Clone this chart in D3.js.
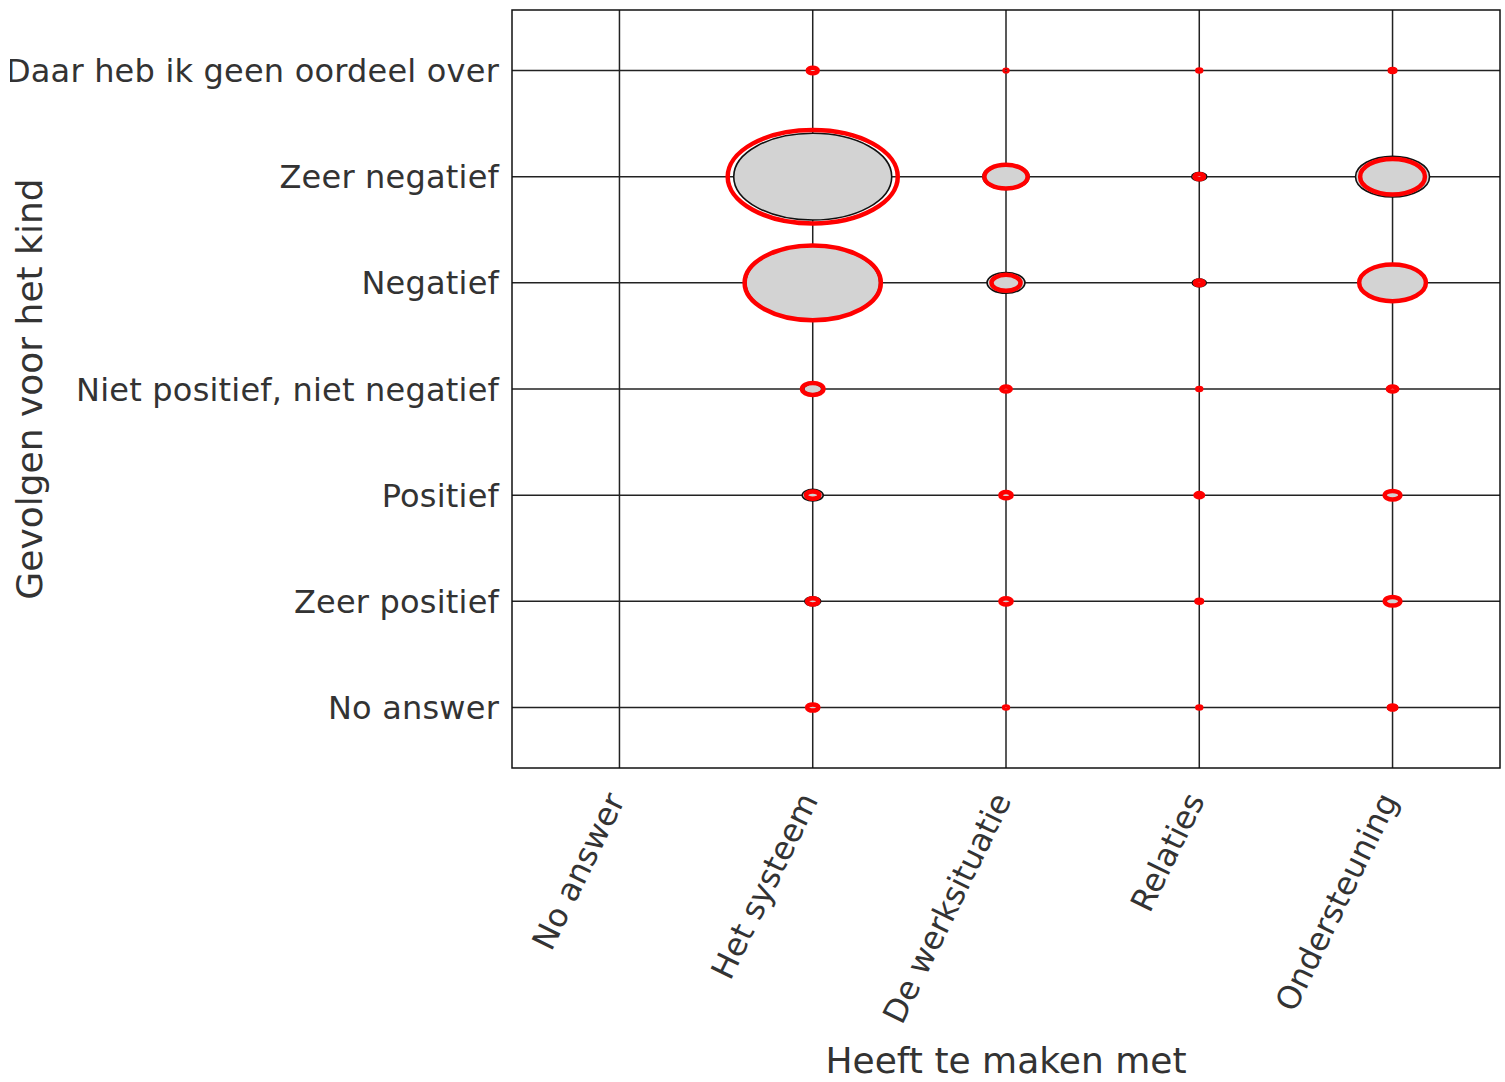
<!DOCTYPE html>
<html>
<head>
<meta charset="utf-8">
<script src="https://cdn.jsdelivr.net/npm/d3@7"></script>
<style>
html,body{margin:0;padding:0;background:#fff;}
svg{display:block;}
</style>
</head>
<body>
<svg id="chart" width="1505" height="1082"></svg>
<script>
// Categories
const xCategories = ["No answer", "Het systeem", "De werksituatie", "Relaties", "Ondersteuning"];
const yCategories = ["Daar heb ik geen oordeel over", "Zeer negatief", "Negatief",
  "Niet positief, niet negatief", "Positief", "Zeer positief", "No answer"];

// Series: gray ellipses (black outline), one value per y category, per x category
const graySeries = {
  "No answer":       [0, 0, 0, 0, 0, 0, 0],
  "Het systeem":     [0.25, 97.5, 70, 1.27, 1.72, 1.0, 0.56],
  "De werksituatie": [0.06, 8.3, 5.6, 0.39, 0.39, 0.39, 0.14],
  "Relaties":        [0.06, 0.88, 0.77, 0.06, 0.25, 0.25, 0.06],
  "Ondersteuning":   [0.25, 21.4, 18, 0.56, 0.77, 0.77, 0.39]
};
// Series: red ellipses
const redSeries = {
  "No answer":       [0, 0, 0, 0, 0, 0, 0],
  "Het systeem":     [0.39, 113, 72.5, 1.8, 0.7, 0.5, 0.5],
  "De werksituatie": [0.035, 7.3, 3.3, 0.35, 0.5, 0.5, 0.06],
  "Relaties":        [0.06, 0.35, 0.3, 0.06, 0.22, 0.12, 0.06],
  "Ondersteuning":   [0.12, 16.4, 17.4, 0.35, 0.95, 0.95, 0.22]
};

const xTitle = "Heeft te maken met";
const yTitle = "Gevolgen voor het kind";

(function () {
const svg = d3.select("#chart");
const pL = 512, pR = 1500, pT = 10, pB = 768;
const font = "'DejaVu Sans', sans-serif";
const textColor = "#333";

const x = d3.scalePoint().domain(xCategories).range([pL, pR]).padding(0.556);
const y = d3.scalePoint().domain(yCategories).range([pT, pB]).padding(0.57);
const r = d3.scaleSqrt().domain([0, 100]).range([0, 80]);
const aspect = y.step() / x.step();

svg.append("defs").append("clipPath").attr("id", "lclip")
  .append("rect").attr("x", 10).attr("y", 0).attr("width", 1495).attr("height", 1082);

// grid lines
const g = svg.append("g");
g.selectAll("line.v").data(xCategories).join("line")
  .attr("x1", d => x(d)).attr("x2", d => x(d))
  .attr("y1", pT).attr("y2", pB)
  .attr("stroke", "#222").attr("stroke-width", 1.5);
g.selectAll("line.h").data(yCategories).join("line")
  .attr("x1", pL).attr("x2", pR)
  .attr("y1", d => y(d)).attr("y2", d => y(d))
  .attr("stroke", "#222").attr("stroke-width", 1.5);

// build cells
const cells = [];
xCategories.forEach(xc => {
  yCategories.forEach((yc, i) => {
    cells.push({x: xc, y: yc, gray: graySeries[xc][i], red: redSeries[xc][i]});
  });
});

g.selectAll("ellipse.gray").data(cells.filter(d => d.gray > 0)).join("ellipse")
  .attr("class", "gray")
  .attr("cx", d => x(d.x)).attr("cy", d => y(d.y))
  .attr("rx", d => r(d.gray)).attr("ry", d => r(d.gray) * aspect)
  .attr("fill", "#d3d3d3").attr("stroke", "#111").attr("stroke-width", 1.6);

g.selectAll("ellipse.red").data(cells.filter(d => d.red > 0)).join("ellipse")
  .attr("class", "red")
  .attr("cx", d => x(d.x)).attr("cy", d => y(d.y))
  .attr("rx", d => r(d.red)).attr("ry", d => r(d.red) * aspect)
  .attr("fill", "none").attr("stroke", "#ff0000").attr("stroke-width", 4.5);

// border
svg.append("rect").attr("x", pL).attr("y", pT)
  .attr("width", pR - pL).attr("height", pB - pT)
  .attr("fill", "none").attr("stroke", "#111").attr("stroke-width", 1.5);

// y tick labels
svg.append("g").attr("clip-path", "url(#lclip)")
  .selectAll("text").data(yCategories).join("text")
  .attr("x", 499).attr("y", d => y(d)).attr("dy", "0.36em")
  .attr("text-anchor", "end")
  .attr("font-family", font).attr("font-size", 32).attr("letter-spacing", 0.2)
  .attr("fill", textColor)
  .text(d => d);

// x tick labels
svg.append("g").selectAll("text").data(xCategories).join("text")
  .attr("transform", d => `translate(${x(d) + 6},${800}) rotate(-64)`)
  .attr("text-anchor", "end")
  .attr("font-family", font).attr("font-size", 32).attr("fill", textColor)
  .text(d => d);

// axis titles
svg.append("text")
  .attr("x", (pL + pR) / 2).attr("y", 1073)
  .attr("text-anchor", "middle")
  .attr("font-family", font).attr("font-size", 36).attr("fill", textColor)
  .text(xTitle);

svg.append("text")
  .attr("transform", `translate(42,${(pT + pB) / 2}) rotate(-90)`)
  .attr("text-anchor", "middle")
  .attr("font-family", font).attr("font-size", 36).attr("fill", textColor)
  .text(yTitle);
})();
</script>
</body>
</html>
